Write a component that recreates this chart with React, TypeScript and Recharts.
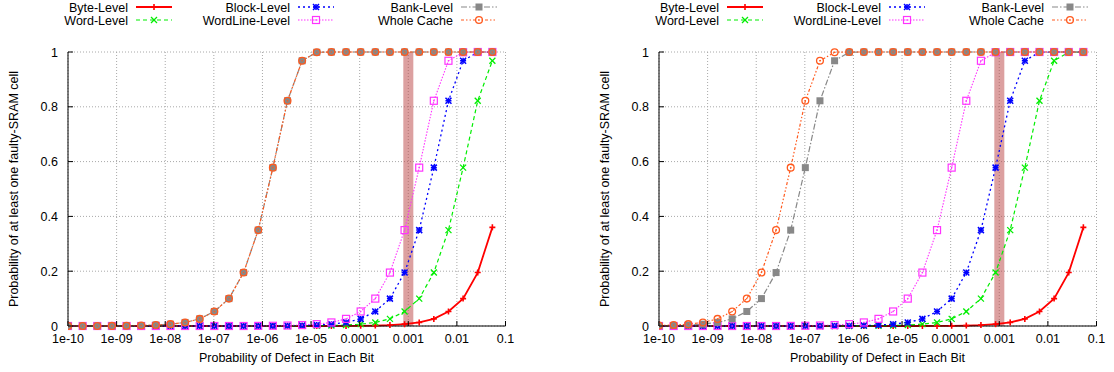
import React from "react";
import {
  CartesianGrid,
  Line,
  LineChart,
  ReferenceArea,
  XAxis,
  YAxis,
} from "recharts";

// defect probability per bit (x)
const bitDefect = [
  1e-10, 2e-10, 4e-10, 8e-10, 1.6e-9, 3.2e-9, 6.4e-9, 1.28e-8, 2.56e-8, 5.12e-8,
  1.024e-7, 2.048e-7, 4.096e-7, 8.192e-7, 1.6384e-6, 3.2768e-6, 6.5536e-6,
  1.31072e-5, 2.62144e-5, 5.24288e-5, 1.048576e-4, 2.097152e-4, 4.194304e-4,
  8.388608e-4, 1.6777216e-3, 3.3554432e-3, 6.7108864e-3, 1.34217728e-2,
  2.68435456e-2, 5.36870912e-2,
];

const xTicks = [1e-10, 1e-9, 1e-8, 1e-7, 1e-6, 1e-5, 1e-4, 1e-3, 1e-2, 1e-1];
const xTickLabels = ["1e-10", "1e-09", "1e-08", "1e-07", "1e-06", "1e-05", "0.0001", "0.001", "0.01", "0.1"];
const yTicks = [0, 0.2, 0.4, 0.6, 0.8, 1];
const yTickLabels = ["0", "0.2", "0.4", "0.6", "0.8", "1"];

// shaded region around p = 0.001
const bandFrom = 0.00079;
const bandTo = 0.00127;

// left plot
const leftByte = [0, 0, 0, 0, 0, 0, 0, 0, 0, 0, 0, 0, 0, 0, 0, 0, 0, 0, 0, 0.0004, 0.0008, 0.0017, 0.0034, 0.0067, 0.013, 0.026, 0.053, 0.1, 0.195, 0.36];
const leftWord = [0, 0, 0, 0, 0, 0, 0, 0, 0, 0, 0, 0, 0, 0, 0, 0, 0.0004, 0.0008, 0.0017, 0.0034, 0.0067, 0.013, 0.026, 0.053, 0.1, 0.195, 0.35, 0.578, 0.822, 0.968];
const leftBlock = [0, 0, 0, 0, 0, 0, 0, 0, 0, 0, 0, 0, 0, 0, 0.0004, 0.0008, 0.0017, 0.0034, 0.0067, 0.013, 0.026, 0.053, 0.1, 0.195, 0.35, 0.578, 0.822, 0.968, 0.999, 1];
const leftWordLine = [0, 0, 0, 0, 0, 0, 0, 0, 0, 0, 0, 0, 0, 0.0004, 0.0008, 0.0017, 0.0034, 0.0067, 0.013, 0.026, 0.053, 0.1, 0.195, 0.35, 0.578, 0.822, 0.968, 0.999, 1, 1];
const leftBank = [0, 0, 0, 0.0004, 0.0008, 0.0017, 0.0034, 0.0067, 0.013, 0.026, 0.053, 0.1, 0.195, 0.35, 0.578, 0.822, 0.968, 0.999, 1, 1, 1, 1, 1, 1, 1, 1, 1, 1, 1, 1];
const leftWhole = [0, 0, 0, 0.0004, 0.0008, 0.0017, 0.0034, 0.0067, 0.013, 0.026, 0.053, 0.1, 0.195, 0.35, 0.578, 0.822, 0.968, 0.999, 1, 1, 1, 1, 1, 1, 1, 1, 1, 1, 1, 1];

// right plot
const rightByte = [0, 0, 0, 0, 0, 0, 0, 0, 0, 0, 0, 0, 0, 0, 0, 0, 0, 0, 0, 0.0004, 0.0008, 0.0017, 0.0034, 0.0067, 0.013, 0.026, 0.053, 0.1, 0.195, 0.36];
const rightWord = [0, 0, 0, 0, 0, 0, 0, 0, 0, 0, 0, 0, 0, 0, 0.0004, 0.0008, 0.0017, 0.0034, 0.0067, 0.013, 0.026, 0.053, 0.1, 0.195, 0.35, 0.578, 0.822, 0.968, 0.999, 1];
const rightBlock = [0, 0, 0, 0, 0, 0, 0, 0, 0, 0, 0, 0, 0.0004, 0.0008, 0.0017, 0.0034, 0.0067, 0.013, 0.026, 0.053, 0.1, 0.195, 0.35, 0.578, 0.822, 0.968, 0.999, 1, 1, 1];
const rightWordLine = [0, 0, 0, 0, 0, 0, 0, 0, 0, 0.0004, 0.0008, 0.0017, 0.0034, 0.0067, 0.013, 0.026, 0.053, 0.1, 0.195, 0.35, 0.578, 0.822, 0.968, 0.999, 1, 1, 1, 1, 1, 1];
const rightBank = [0.0008, 0.0017, 0.0034, 0.0067, 0.013, 0.026, 0.053, 0.1, 0.195, 0.35, 0.578, 0.822, 0.968, 0.999, 1, 1, 1, 1, 1, 1, 1, 1, 1, 1, 1, 1, 1, 1, 1, 1];
const rightWhole = [0.0017, 0.0034, 0.0067, 0.013, 0.026, 0.053, 0.1, 0.195, 0.35, 0.578, 0.822, 0.968, 0.999, 1, 1, 1, 1, 1, 1, 1, 1, 1, 1, 1, 1, 1, 1, 1, 1, 1];

const FONT = '"Liberation Sans", Arial, Helvetica, sans-serif';
const FS = 12.5;

type MarkerKind = "plus" | "cross" | "star" | "boxOpen" | "boxFilled" | "circleOpen";

type SeriesStyle = {
  key: string;
  name: string;
  color: string;
  dash?: string;
  width: number;
  marker: MarkerKind;
};

const styles: SeriesStyle[] = [
  { key: "byte", name: "Byte-Level", color: "#ff0000", width: 1.8, marker: "plus" },
  { key: "word", name: "Word-Level", color: "#00ee00", dash: "4 3", width: 1.2, marker: "cross" },
  { key: "block", name: "Block-Level", color: "#0000ff", dash: "2 3", width: 1.3, marker: "star" },
  { key: "wordline", name: "WordLine-Level", color: "#ff33ff", dash: "1.5 1.5", width: 1.1, marker: "boxOpen" },
  { key: "bank", name: "Bank-Level", color: "#888888", dash: "6 2 1.5 2", width: 1.2, marker: "boxFilled" },
  { key: "whole", name: "Whole Cache", color: "#ff5a1e", dash: "3 2 1.5 2 1.5 2", width: 1.2, marker: "circleOpen" },
];

function Marker({ kind, cx, cy, color }: { kind: MarkerKind; cx: number; cy: number; color: string }) {
  if (cx == null || cy == null) return null;
  switch (kind) {
    case "plus":
      return (
        <g stroke={color} strokeWidth={1.6}>
          <line x1={cx - 3} x2={cx + 3} y1={cy} y2={cy} />
          <line x1={cx} x2={cx} y1={cy - 3} y2={cy + 3} />
        </g>
      );
    case "cross":
      return (
        <g stroke={color} strokeWidth={1.3}>
          <line x1={cx - 3} x2={cx + 3} y1={cy - 3} y2={cy + 3} />
          <line x1={cx - 3} x2={cx + 3} y1={cy + 3} y2={cy - 3} />
        </g>
      );
    case "star":
      return (
        <g stroke={color} strokeWidth={1.5}>
          <line x1={cx - 3} x2={cx + 3} y1={cy} y2={cy} />
          <line x1={cx} x2={cx} y1={cy - 3} y2={cy + 3} />
          <line x1={cx - 3} x2={cx + 3} y1={cy - 3} y2={cy + 3} />
          <line x1={cx - 3} x2={cx + 3} y1={cy + 3} y2={cy - 3} />
        </g>
      );
    case "boxOpen":
      return (
        <g>
          <rect x={cx - 3.5} y={cy - 3.5} width={7} height={7} fill="none" stroke={color} strokeWidth={1.2} />
          <rect x={cx - 0.7} y={cy - 0.7} width={1.4} height={1.4} fill={color} />
        </g>
      );
    case "boxFilled":
      return <rect x={cx - 3.5} y={cy - 3.5} width={7} height={7} fill={color} />;
    case "circleOpen":
      return (
        <g>
          <circle cx={cx} cy={cy} r={3.4} fill="none" stroke={color} strokeWidth={1.3} />
          <circle cx={cx} cy={cy} r={0.8} fill={color} />
        </g>
      );
  }
  return null;
}

function Legend() {
  const cols = [128, 290, 453];
  const rowsY = [7, 20];
  return (
    <svg width={591} height={30} style={{ position: "absolute", left: 0, top: 0, overflow: "visible" }}>
      {styles.map((s, i) => {
        const col = Math.floor(i / 2);
        const row = i % 2;
        const tx = cols[col];
        const ty = rowsY[row];
        const x0 = tx + 8;
        const x1 = x0 + 36;
        return (
          <g key={s.key}>
            <text x={tx} y={ty + 4.5} textAnchor="end" fontSize={FS} fontFamily={FONT} fill="#000">
              {s.name}
            </text>
            <line x1={x0} x2={x1} y1={ty} y2={ty} stroke={s.color} strokeWidth={s.width} strokeDasharray={s.dash} />
            <Marker kind={s.marker} cx={(x0 + x1) / 2} cy={ty} color={s.color} />
          </g>
        );
      })}
    </svg>
  );
}

const BottomTick = (props: any) => {
  const { x, y, payload } = props;
  const idx = xTicks.indexOf(payload.value);
  return (
    <g>
      <line x1={x} x2={x} y1={y} y2={y - 5} stroke="#000" />
      <text x={x} y={y + 16.5} textAnchor="middle" fontSize={FS} fontFamily={FONT} fill="#000">
        {idx >= 0 ? xTickLabels[idx] : ""}
      </text>
    </g>
  );
};

const TopTick = (props: any) => {
  const { x, y } = props;
  return <line x1={x} x2={x} y1={y} y2={y + 5} stroke="#000" />;
};

const LeftTick = (props: any) => {
  const { x, y, payload } = props;
  const idx = yTicks.indexOf(payload.value);
  return (
    <g>
      <line x1={x} x2={x + 5} y1={y} y2={y} stroke="#000" />
      <text x={x - 10} y={y + 4.5} textAnchor="end" fontSize={FS} fontFamily={FONT} fill="#000">
        {idx >= 0 ? yTickLabels[idx] : ""}
      </text>
    </g>
  );
};

const RightTick = (props: any) => {
  const { x, y } = props;
  return <line x1={x} x2={x - 5} y1={y} y2={y} stroke="#000" />;
};

type PanelProps = {
  width: number;
  values: number[][];
};

function Panel({ width, values }: PanelProps) {
  const rows = bitDefect.map((x, i) => {
    const row: Record<string, number> = { x };
    styles.forEach((s, j) => {
      row[s.key] = values[j][i];
    });
    return row;
  });
  const plotRight = 505.5;
  return (
    <div style={{ position: "relative", width, height: 372 }}>
      <LineChart
        width={width}
        height={372}
        data={rows}
        margin={{ top: 52, right: width - plotRight, bottom: 0, left: 0 }}
      >
        <CartesianGrid stroke="#a8a8a8" strokeDasharray="1 2" />
        <ReferenceArea x1={bandFrom} x2={bandTo} y1={0} y2={1} fill="#b94141" fillOpacity={0.5} stroke="none" ifOverflow="hidden" />
        <XAxis
          dataKey="x"
          type="number"
          scale="log"
          domain={[1e-10, 0.1]}
          ticks={xTicks}
          allowDataOverflow
          height={46}
          tickSize={0}
          tickMargin={0}
          tick={BottomTick}
          axisLine={{ stroke: "#000" }}
          interval={0}
          label={() => (
            <text x={286.5} y={362} textAnchor="middle" fontSize={FS} fontFamily={FONT} fill="#000">
              Probability of Defect in Each Bit
            </text>
          )}
        />
        <XAxis
          xAxisId="top"
          orientation="top"
          dataKey="x"
          type="number"
          scale="log"
          domain={[1e-10, 0.1]}
          ticks={xTicks}
          allowDataOverflow
          height={0}
          tickSize={0}
          tickMargin={0}
          tick={TopTick}
          axisLine={{ stroke: "#000" }}
          interval={0}
        />
        <YAxis
          type="number"
          domain={[0, 1]}
          ticks={yTicks}
          width={68}
          tickSize={0}
          tickMargin={0}
          tick={LeftTick}
          axisLine={{ stroke: "#000" }}
          interval={0}
          label={() => (
            <text
              x={14}
              y={189}
              transform="rotate(-90 14 189)"
              textAnchor="middle"
              dominantBaseline="central"
              fontSize={FS}
              fontFamily={FONT}
              fill="#000"
            >
              Probability of at least one faulty-SRAM cell
            </text>
          )}
        />
        <YAxis
          yAxisId="right"
          orientation="right"
          type="number"
          domain={[0, 1]}
          ticks={yTicks}
          width={0}
          tickSize={0}
          tickMargin={0}
          tick={RightTick}
          axisLine={{ stroke: "#000" }}
          interval={0}
        />
        {styles.map((s) => (
          <Line
            key={s.key}
            type="linear"
            dataKey={s.key}
            stroke={s.color}
            strokeWidth={s.width}
            strokeDasharray={s.dash}
            isAnimationActive={false}
            dot={(p: any) => (
              <Marker key={`${s.key}-${p.index}`} kind={s.marker} cx={p.cx} cy={p.cy} color={s.color} />
            )}
            activeDot={false}
          />
        ))}
      </LineChart>
      <Legend />
    </div>
  );
}

export default function App() {
  return (
    <div style={{ position: "absolute", left: 0, top: 0, width: 1114, height: 372, background: "#fff", display: "flex" }}>
      <Panel width={591} values={[leftByte, leftWord, leftBlock, leftWordLine, leftBank, leftWhole]} />
      <Panel width={523} values={[rightByte, rightWord, rightBlock, rightWordLine, rightBank, rightWhole]} />
    </div>
  );
}
